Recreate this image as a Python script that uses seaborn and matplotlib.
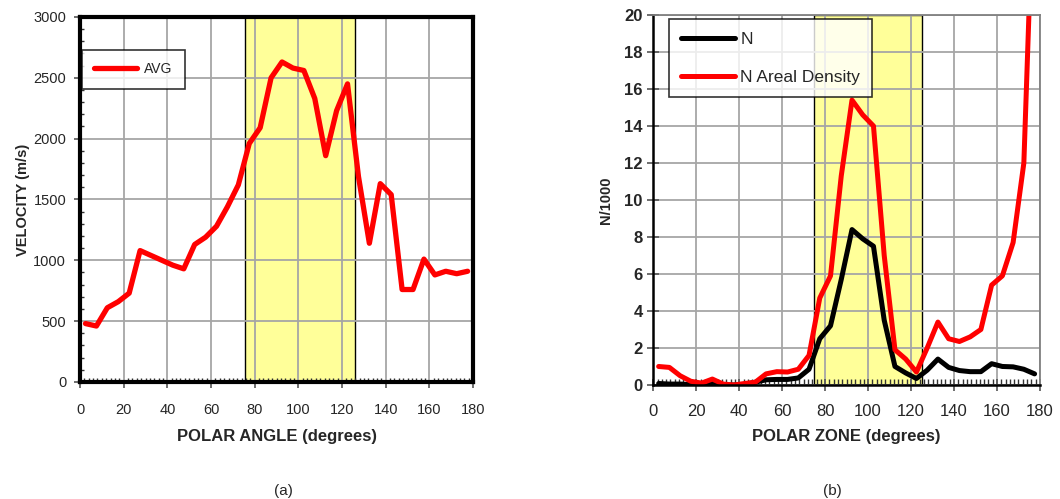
import numpy as np
import pandas as pd
import matplotlib
matplotlib.use("Agg")
import matplotlib.pyplot as plt
from matplotlib.ticker import MultipleLocator
import seaborn as sns

# polar angle / zone centres (degrees)
angle = [2.5, 7.5, 12.5, 17.5, 22.5, 27.5, 32.5, 37.5, 42.5, 47.5,
         52.5, 57.5, 62.5, 67.5, 72.5, 77.5, 82.5, 87.5, 92.5, 97.5,
         102.5, 107.5, 112.5, 117.5, 122.5, 127.5, 132.5, 137.5, 142.5, 147.5,
         152.5, 157.5, 162.5, 167.5, 172.5, 177.5]

# (a) average velocity, m/s
avg_vel = [480, 460, 610, 660, 730, 1080, 1040, 1000, 960, 930,
           1130, 1190, 1280, 1440, 1620, 1960, 2090, 2500, 2630, 2580,
           2560, 2330, 1860, 2230, 2450, 1690, 1140, 1630, 1540, 760,
           760, 1010, 880, 910, 890, 910]

# (b) counts / 1000
n_count = [0.08, 0.05, 0.05, 0.02, 0.02, 0.1, 0.0, 0.0, 0.03, 0.15,
           0.28, 0.3, 0.3, 0.38, 0.85, 2.5, 3.2, 5.7, 8.4, 7.9,
           7.5, 3.5, 1.0, 0.65, 0.35, 0.8, 1.4, 0.95, 0.78, 0.72,
           0.72, 1.15, 1.0, 0.98, 0.85, 0.6]
n_areal = [1.0, 0.95, 0.5, 0.2, 0.1, 0.32, 0.05, 0.0, 0.08, 0.15,
           0.6, 0.72, 0.7, 0.85, 1.6, 4.7, 5.9, 11.3, 15.4, 14.6,
           14.0, 7.0, 1.9, 1.4, 0.7, 2.0, 3.4, 2.5, 2.35, 2.6,
           3.0, 5.4, 5.9, 7.7, 12.0, 29.0]

df_a = pd.DataFrame({"angle": angle, "AVG": avg_vel})
df_b = pd.DataFrame({"angle": angle, "N": n_count, "N Areal Density": n_areal})

sns.set_style("white")
plt.rcParams["font.family"] = ["Liberation Sans", "DejaVu Sans"]

fig = plt.figure(figsize=(10.6, 4.99), dpi=100)
ax1 = fig.add_axes([0.0755, 0.2345, 0.3708, 0.7315])
ax2 = fig.add_axes([0.6163, 0.2285, 0.3648, 0.7415])

grid_kw = dict(color="#a6a6a6", linewidth=1.3)

# ---------- (a) ----------
ax1.set_axisbelow(True)
ax1.axvspan(75.5, 126, facecolor="#ffff99", edgecolor="black", linewidth=1.0, zorder=0.3)
sns.lineplot(data=df_a, x="angle", y="AVG", color="#ff0000", linewidth=3.8,
             label="AVG", ax=ax1)
ax1.set_xlim(0, 180)
ax1.set_ylim(0, 3000)
ax1.xaxis.set_major_locator(MultipleLocator(20))
ax1.xaxis.set_minor_locator(MultipleLocator(2))
ax1.yaxis.set_major_locator(MultipleLocator(500))
ax1.yaxis.set_minor_locator(MultipleLocator(100))
ax1.grid(True, which="major", **grid_kw)
ax1.tick_params(which="both", bottom=True, left=True)
ax1.tick_params(which="major", direction="out", length=4, width=1.2, color="#555555")
ax1.tick_params(which="minor", direction="in", length=3, width=1.0, color="#333333")
ax1.tick_params(axis="x", which="major", pad=11)
ax1.tick_params(axis="y", which="major", pad=6)
for s in ax1.spines.values():
    s.set_visible(True)
    s.set_color("black")
    s.set_linewidth(3.0)
ax1.set_xlabel("POLAR ANGLE (degrees)", fontsize=12, fontweight="bold", labelpad=9)
ax1.set_ylabel("VELOCITY (m/s)", fontsize=10.5, fontweight="bold", labelpad=2)
for lab in ax1.get_xticklabels() + ax1.get_yticklabels():
    lab.set_fontsize(10.5)
leg1 = ax1.legend(loc="upper left", bbox_to_anchor=(0.004, 0.91), borderaxespad=0,
                  fontsize=10, frameon=True, fancybox=False, handlelength=3.1,
                  borderpad=0.9, handletextpad=0.5)
leg1.get_frame().set_edgecolor("black")
leg1.get_frame().set_linewidth(1.2)

# ---------- (b) ----------
ax2.set_axisbelow(True)
ax2.axvspan(75, 125, facecolor="#ffff99", edgecolor="black", linewidth=1.0, zorder=0.3)
sns.lineplot(data=df_b, x="angle", y="N", color="black", linewidth=3.6,
             label="N", ax=ax2)
sns.lineplot(data=df_b, x="angle", y="N Areal Density", color="#ff0000",
             linewidth=3.6, label="N Areal Density", ax=ax2)
ax2.set_xlim(0, 180)
ax2.set_ylim(0, 20)
ax2.xaxis.set_major_locator(MultipleLocator(20))
ax2.xaxis.set_minor_locator(MultipleLocator(2))
ax2.yaxis.set_major_locator(MultipleLocator(2))
ax2.grid(True, which="major", **grid_kw)
ax2.tick_params(which="both", bottom=True, left=True)
ax2.tick_params(which="major", direction="inout", length=8, width=1.2, color="#555555")
ax2.tick_params(axis="x", which="minor", direction="in", length=4, width=1.0, color="#333333")
ax2.tick_params(axis="x", which="major", pad=10)
for side in ["left", "bottom"]:
    ax2.spines[side].set_color("black")
    ax2.spines[side].set_linewidth(1.8)
for side in ["top", "right"]:
    ax2.spines[side].set_color("#808080")
    ax2.spines[side].set_linewidth(1.3)
ax2.set_xlabel("POLAR ZONE (degrees)", fontsize=12, fontweight="bold", labelpad=7)
ax2.set_ylabel("N/1000", fontsize=10.5, fontweight="bold", labelpad=8)
for lab in ax2.get_xticklabels():
    lab.set_fontsize(12)
for lab in ax2.get_yticklabels():
    lab.set_fontweight("bold")
    lab.set_fontsize(12)
leg2 = ax2.legend(loc="upper left", bbox_to_anchor=(0.041, 0.988), borderaxespad=0,
                  fontsize=12.5, frameon=True, fancybox=False, handlelength=3.1,
                  labelspacing=1.35, borderpad=0.7, handletextpad=0.3)
leg2.get_frame().set_edgecolor("black")
leg2.get_frame().set_linewidth(1.2)

fig.text(283 / 1060, 1 - 491 / 499, "(a)", ha="center", va="center", fontsize=11)
fig.text(832 / 1060, 1 - 491 / 499, "(b)", ha="center", va="center", fontsize=11)

fig.savefig("out.png", dpi=100, facecolor="white")
